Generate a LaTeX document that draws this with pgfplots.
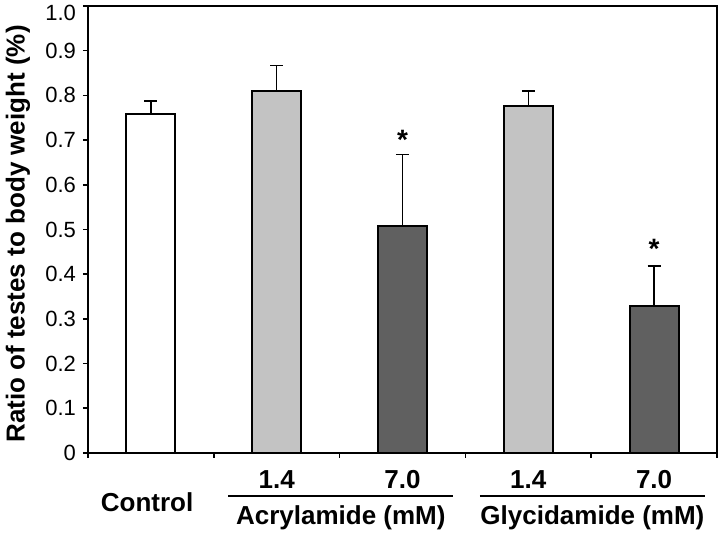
\documentclass[border=0pt]{standalone}
\usepackage{pgfplots}
\pgfplotsset{compat=1.18}
\usepackage{fontspec}
\setmainfont{Liberation Sans}
\definecolor{lightbar}{RGB}{195,195,195}
\definecolor{darkbar}{RGB}{96,96,96}
\begin{document}
\begin{tikzpicture}
\begin{axis}[
  at={(0,0)}, anchor=south west,
  scale only axis,
  width=314.5pt, height=223.5pt,
  xmin=-0.5, xmax=4.5,
  ymin=0, ymax=1,
  clip=false,
  axis line style={line width=1pt},
  tick pos=left,
  tick align=outside,
  major tick length=2.5pt,
  tick style={line width=0.8pt, black},
  xtick={-0.5,0.5,1.5,2.5,3.5,4.5},
  xticklabels={},
  ytick={0,0.1,0.2,0.3,0.4,0.5,0.6,0.7,0.8,0.9},
  yticklabels={0,0.1,0.2,0.3,0.4,0.5,0.6,0.7,0.8,0.9},
  extra y ticks={1},
  extra y tick labels={1.0},
  extra y tick style={yticklabel style={yshift=-3.3pt}},
  yticklabel style={font=\fontsize{11pt}{13pt}\selectfont},
  /pgf/number format/assume math mode=true,
  ybar, bar width=24.5pt, bar shift=0pt,
  every axis plot/.append style={draw=black, line width=1pt},
  error bars/error bar style={line width=0.75pt, black},
  error bars/error mark options={rotate=90, mark size=3.25pt, line width=0.75pt, black},
]
\addplot[fill=white, error bars/.cd, y dir=plus, y explicit]
  coordinates {(0,0.758) +- (0,0.029)};
\addplot[fill=lightbar, error bars/.cd, y dir=plus, y explicit]
  coordinates {(1,0.810) +- (0,0.057) (3,0.777) +- (0,0.033)};
\addplot[fill=darkbar, error bars/.cd, y dir=plus, y explicit]
  coordinates {(2,0.508) +- (0,0.160) (4,0.329) +- (0,0.089)};

\node[font=\bfseries\fontsize{14pt}{14pt}\selectfont] at (axis cs:2,0.700) {*};
\node[font=\bfseries\fontsize{14pt}{14pt}\selectfont] at (axis cs:4,0.456) {*};

\node[font=\bfseries\fontsize{13pt}{15pt}\selectfont] at ([yshift=-13.5pt]axis cs:1,0) {1.4};
\node[font=\bfseries\fontsize{13pt}{15pt}\selectfont] at ([yshift=-13.5pt]axis cs:2,0) {7.0};
\node[font=\bfseries\fontsize{13pt}{15pt}\selectfont] at ([yshift=-13.5pt]axis cs:3,0) {1.4};
\node[font=\bfseries\fontsize{13pt}{15pt}\selectfont] at ([yshift=-13.5pt]axis cs:4,0) {7.0};
\draw[line width=1pt] ([yshift=-21.5pt]axis cs:0.613,0) -- ([yshift=-21.5pt]axis cs:2.40,0);
\draw[line width=1pt] ([yshift=-21.5pt]axis cs:2.616,0) -- ([yshift=-21.5pt]axis cs:4.405,0);
\node[font=\bfseries\fontsize{13pt}{15pt}\selectfont] at ([yshift=-24.5pt]axis cs:-0.03,0) {Control};
\node[font=\bfseries\fontsize{13pt}{15pt}\selectfont] at ([yshift=-32.5pt]axis cs:1.51,0) {Acrylamide (mM)};
\node[font=\bfseries\fontsize{13pt}{15pt}\selectfont] at ([yshift=-32.5pt]axis cs:3.51,0) {Glycidamide (mM)};
\node[rotate=90, font=\bfseries\fontsize{13pt}{15pt}\selectfont] at ([xshift=-35pt]axis description cs:0,0.49) {Ratio of testes to body weight (\%)};
\end{axis}
\pgfresetboundingbox
\path[use as bounding box] (-44pt,-40.5pt) rectangle (316pt,226.5pt);
\end{tikzpicture}
\end{document}
